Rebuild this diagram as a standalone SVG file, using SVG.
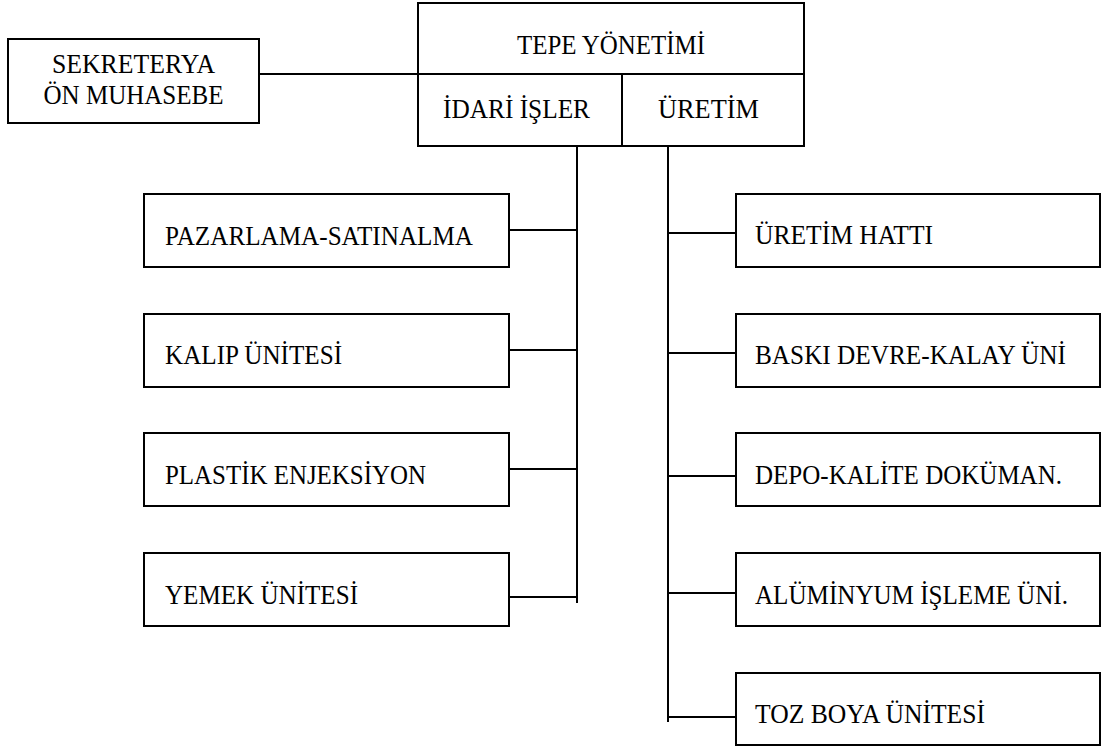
<svg xmlns="http://www.w3.org/2000/svg" width="1105" height="748" viewBox="0 0 1105 748">
  <style>
    .box { fill: #ffffff; stroke: #000000; stroke-width: 2; }
    .line { fill: none; stroke: #000000; stroke-width: 2; }
    .lbl { font-family: 'Times New Roman', 'Liberation Serif', serif; font-size: 27px; fill: #000000; }
    .c { text-anchor: middle; }
  </style>
  <rect x="0" y="0" width="1105" height="748" fill="#ffffff"/>

  <!-- connectors -->
  <g id="connectors" class="line">
    <line x1="259" y1="74" x2="418" y2="74"/>
    <!-- left trunk -->
    <line x1="577" y1="146" x2="577" y2="603"/>
    <line x1="509" y1="230" x2="577" y2="230"/>
    <line x1="509" y1="350" x2="577" y2="350"/>
    <line x1="509" y1="469" x2="577" y2="469"/>
    <line x1="509" y1="597" x2="577" y2="597"/>
    <!-- right trunk -->
    <line x1="668" y1="146" x2="668" y2="722"/>
    <line x1="668" y1="233" x2="736" y2="233"/>
    <line x1="668" y1="353" x2="736" y2="353"/>
    <line x1="668" y1="476" x2="736" y2="476"/>
    <line x1="668" y1="593" x2="736" y2="593"/>
    <line x1="668" y1="717" x2="736" y2="717"/>
  </g>

  <g id="sekreterya">
    <rect class="box" x="8" y="39" width="251" height="84"/>
    <text class="lbl c" x="133.5" y="73" textLength="163" lengthAdjust="spacingAndGlyphs">SEKRETERYA</text>
    <text class="lbl c" x="133.5" y="104" textLength="180" lengthAdjust="spacingAndGlyphs">ÖN MUHASEBE</text>
  </g>

  <g id="tepe-yonetimi">
    <rect class="box" x="418" y="3" width="386" height="143"/>
    <line class="line" x1="418" y1="74" x2="804" y2="74"/>
    <text class="lbl c" x="611" y="54" textLength="188" lengthAdjust="spacingAndGlyphs">TEPE YÖNETİMİ</text>
  </g>

  <g id="idari-isler">
    <line class="line" x1="622" y1="74" x2="622" y2="146"/>
    <text class="lbl c" x="516.5" y="118" textLength="147" lengthAdjust="spacingAndGlyphs">İDARİ İŞLER</text>
  </g>

  <g id="uretim">
    <text class="lbl c" x="708.5" y="118" textLength="101" lengthAdjust="spacingAndGlyphs">ÜRETİM</text>
  </g>

  <g id="pazarlama">
    <rect class="box" x="144" y="194" width="365" height="73"/>
    <text class="lbl" x="165" y="245" textLength="308" lengthAdjust="spacingAndGlyphs">PAZARLAMA-SATINALMA</text>
  </g>
  <g id="kalip">
    <rect class="box" x="144" y="314" width="365" height="73"/>
    <text class="lbl" x="165" y="364" textLength="177" lengthAdjust="spacingAndGlyphs">KALIP ÜNİTESİ</text>
  </g>
  <g id="plastik">
    <rect class="box" x="144" y="433" width="365" height="73"/>
    <text class="lbl" x="165" y="484" textLength="261" lengthAdjust="spacingAndGlyphs">PLASTİK ENJEKSİYON</text>
  </g>
  <g id="yemek">
    <rect class="box" x="144" y="553" width="365" height="73"/>
    <text class="lbl" x="165" y="604" textLength="193" lengthAdjust="spacingAndGlyphs">YEMEK ÜNİTESİ</text>
  </g>

  <g id="uretim-hatti">
    <rect class="box" x="736" y="194" width="364" height="73"/>
    <text class="lbl" x="755" y="244" textLength="178" lengthAdjust="spacingAndGlyphs">ÜRETİM HATTI</text>
  </g>
  <g id="baski-devre">
    <rect class="box" x="736" y="314" width="364" height="73"/>
    <text class="lbl" x="755" y="364" textLength="311" lengthAdjust="spacingAndGlyphs">BASKI DEVRE-KALAY ÜNİ</text>
  </g>
  <g id="depo-kalite">
    <rect class="box" x="736" y="433" width="364" height="73"/>
    <text class="lbl" x="755" y="484" textLength="307" lengthAdjust="spacingAndGlyphs">DEPO-KALİTE DOKÜMAN.</text>
  </g>
  <g id="aluminyum">
    <rect class="box" x="736" y="553" width="364" height="73"/>
    <text class="lbl" x="755" y="604" textLength="313" lengthAdjust="spacingAndGlyphs">ALÜMİNYUM İŞLEME ÜNİ.</text>
  </g>
  <g id="toz-boya">
    <rect class="box" x="736" y="673" width="364" height="72"/>
    <text class="lbl" x="755" y="723" textLength="230" lengthAdjust="spacingAndGlyphs">TOZ BOYA ÜNİTESİ</text>
  </g>
</svg>
